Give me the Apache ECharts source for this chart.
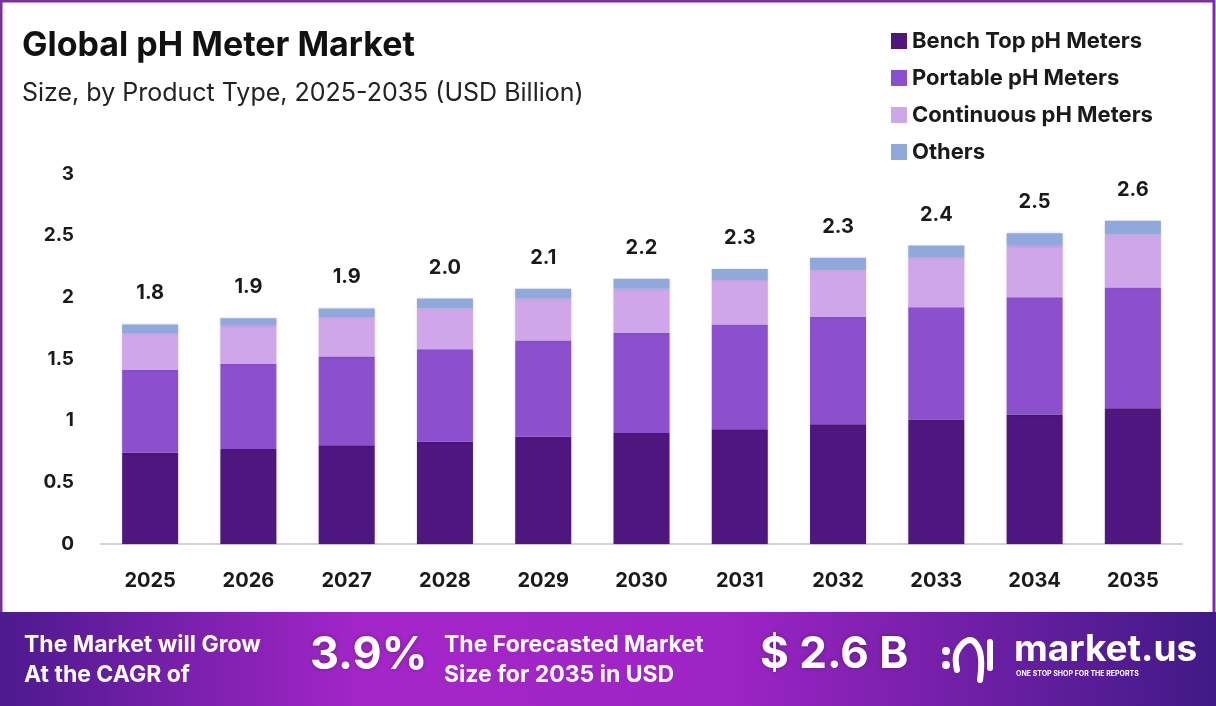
<!DOCTYPE html>
<html>
<head>
<meta charset="utf-8">
<script src="https://cdn.jsdelivr.net/npm/echarts@6/dist/echarts.min.js"></script>
<style>
  html, body { margin: 0; padding: 0; background: #fff; }
  #chart-box { width: 1216px; height: 706px; }
</style>
</head>
<body>
<div id="chart-box"></div>
<script>
const years = ['2025', '2026', '2027', '2028', '2029', '2030', '2031', '2032', '2033', '2034', '2035'];
const benchTop = [0.74, 0.77, 0.80, 0.83, 0.87, 0.90, 0.93, 0.97, 1.01, 1.05, 1.10];
const portable = [0.67, 0.69, 0.72, 0.75, 0.78, 0.81, 0.85, 0.87, 0.91, 0.95, 0.98];
const continuous = [0.30, 0.31, 0.32, 0.33, 0.34, 0.36, 0.36, 0.38, 0.40, 0.42, 0.43];
const others = [0.07, 0.06, 0.07, 0.08, 0.08, 0.08, 0.09, 0.10, 0.10, 0.10, 0.11];
const totals = ['1.8', '1.9', '1.9', '2.0', '2.1', '2.2', '2.3', '2.3', '2.4', '2.5', '2.6'];
const yTicks = ['0', '0.5', '1', '1.5', '2', '2.5', '3'];

const font = 'Inter, "Noto Sans", sans-serif';
const colors = ['#4f1680', '#8c4fce', '#d0a6eb', '#8fa9dc'];

let chart = echarts.init(document.getElementById('chart-box'));

const barStyle = (c) => ({
    color: c,
    shadowColor: 'rgba(0,0,0,0.18)',
    shadowBlur: 3
});

const mk = (name, data, i) => ({
    name: name,
    type: 'bar',
    stack: 'total',
    barWidth: 56,
    data: data,
    itemStyle: barStyle(colors[i])
});

let series = [
    mk('Bench Top pH Meters', benchTop, 0),
    mk('Portable pH Meters', portable, 1),
    mk('Continuous pH Meters', continuous, 2),
    mk('Others', others, 3)
];
series[3].label = {
    show: true,
    position: 'top',
    distance: 21,
    formatter: (p) => totals[p.dataIndex],
    color: '#1a1a1a',
    fontFamily: font,
    fontWeight: 'bold',
    fontSize: 20
};

let option = {
    backgroundColor: '#fff',
    animation: false,
    color: colors,
    title: {
        text: 'Global pH Meter Market',
        subtext: 'Size, by Product Type, 2025-2035 (USD Billion)',
        left: 17,
        top: 24,
        itemGap: 18,
        textStyle: { fontFamily: font, fontWeight: 'bold', fontSize: 34, color: '#111' },
        subtextStyle: { fontFamily: font, fontSize: 25, color: '#222' }
    },
    legend: {
        orient: 'vertical',
        left: 886,
        top: 25,
        itemWidth: 16,
        itemHeight: 16,
        itemGap: 15,
        icon: 'rect',
        textStyle: { fontFamily: font, fontWeight: 'bold', fontSize: 22, color: '#1a1a1a' },
        data: series.map(s => s.name)
    },
    grid: { left: 101, right: 34, top: 174, bottom: 162 },
    xAxis: {
        type: 'category',
        data: years,
        axisLine: { lineStyle: { color: '#d4d4d4', width: 2 } },
        axisTick: { show: false },
        axisLabel: { margin: 27, fontFamily: font, fontWeight: 'bold', fontSize: 20, color: '#1a1a1a' }
    },
    yAxis: {
        type: 'value',
        min: 0,
        max: 3,
        interval: 0.5,
        splitLine: { show: false },
        axisLine: { show: false },
        axisTick: { show: false },
        axisLabel: {
            margin: 27,
            fontFamily: font, fontWeight: 'bold', fontSize: 19, color: '#1a1a1a',
            formatter: (v) => yTicks[Math.round(v / 0.5)]
        }
    },
    series: series,
    graphic: [
        // outer purple frame
        { type: 'rect', shape: { x: 1, y: 1, width: 1213, height: 700 }, style: { fill: 'none', stroke: '#7a2fa3', lineWidth: 3 }, z: 10 },
        // bottom banner
        {
            type: 'rect', shape: { x: 0, y: 612, width: 1216, height: 94 },
            style: {
                fill: new echarts.graphic.LinearGradient(0, 0, 1, 0, [
                    { offset: 0, color: '#4c1a8e' },
                    { offset: 0.3, color: '#a426c9' },
                    { offset: 0.6, color: '#9d24c5' },
                    { offset: 1, color: '#401a86' }
                ])
            }, z: 11
        },
        { type: 'text', left: 24, top: 630, z: 12, style: { text: 'The Market will Grow\nAt the CAGR of', fill: '#fff', font: 'bold 23px ' + font, lineHeight: 30 } },
        { type: 'text', left: 310, top: 633, z: 12, style: { text: '3.9%', fill: '#fff', font: 'bold 45px ' + font, textShadowColor: 'rgba(0,0,0,0.3)', textShadowBlur: 4 } },
        { type: 'text', left: 444, top: 630, z: 12, style: { text: 'The Forecasted Market\nSize for 2035 in USD', fill: '#fff', font: 'bold 23px ' + font, lineHeight: 30 } },
        { type: 'text', left: 760, top: 633, z: 12, style: { text: '$ 2.6 B', fill: '#fff', font: 'bold 44px ' + font, textShadowColor: 'rgba(0,0,0,0.3)', textShadowBlur: 4 } },
        // market.us logo
        { type: 'circle', shape: { cx: 946, cy: 651, r: 4 }, style: { fill: '#fff' }, z: 12 },
        { type: 'circle', shape: { cx: 946, cy: 665, r: 4 }, style: { fill: '#fff' }, z: 12 },
        { type: 'polyline', shape: { points: [[957, 670], [957, 652], [970, 640], [980, 652], [980, 680]], smooth: 0.4 }, style: { stroke: '#fff', lineWidth: 6, fill: 'none', lineCap: 'round' }, z: 12 },
        { type: 'line', shape: { x1: 990, y1: 642, x2: 990, y2: 668 }, style: { stroke: '#fff', lineWidth: 6, lineCap: 'round' }, z: 12 },
        { type: 'text', left: 1014, top: 631, z: 12, style: { text: 'market.us', fill: '#fff', font: 'bold 37px ' + font } },
        { type: 'text', left: 1016, top: 670, z: 12, style: { text: 'ONE STOP SHOP FOR THE REPORTS', fill: '#fff', font: 'bold 7px ' + font } }
    ]
};

chart.setOption(option);
</script>
</body>
</html>
